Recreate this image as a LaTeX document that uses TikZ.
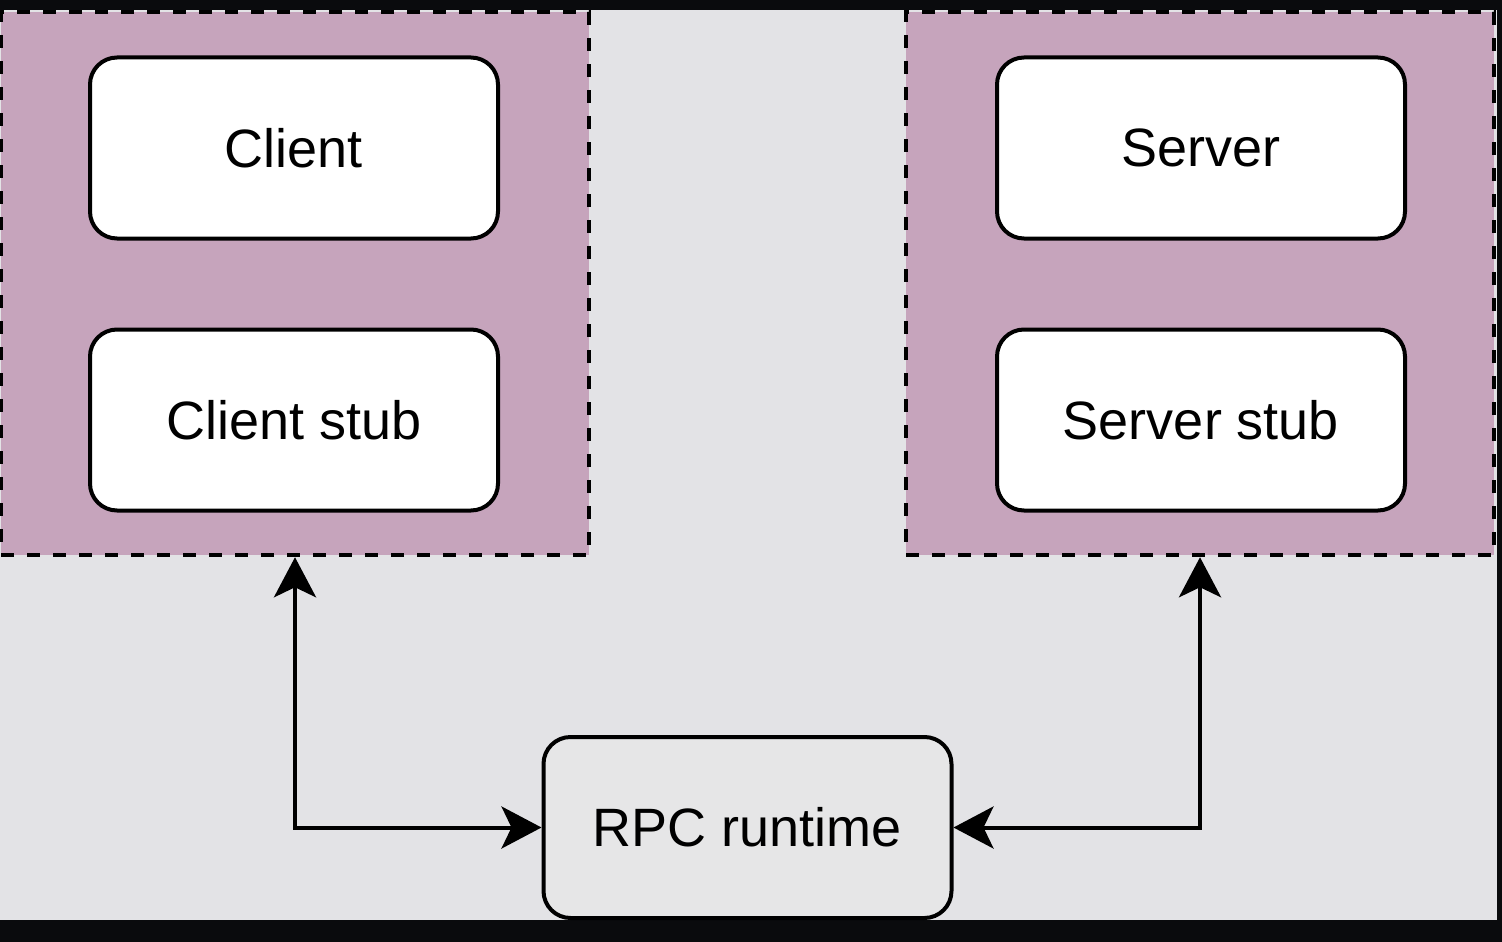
\documentclass[tikz,border=0pt]{standalone}
\usepackage{fontspec}
\setmainfont{Liberation Sans}
\usetikzlibrary{positioning, calc, arrows.meta}

\definecolor{frameDark}{RGB}{10,11,13}
\definecolor{bgGray}{RGB}{227,227,230}
\definecolor{grpPurple}{RGB}{198,164,188}
\definecolor{rtGray}{RGB}{230,230,231}

\begin{document}
\begin{tikzpicture}[x=1pt,y=-1pt,
    grp/.style={draw, line width=4.5pt, dash pattern=on 13pt off 13pt,
      fill=grpPurple, inner sep=0pt},
    box/.style={draw, line width=4pt, rounded corners=27pt, fill=white,
      minimum width=408pt, minimum height=181pt, inner sep=0pt,
      font=\fontsize{54}{62}\selectfont},
    link/.style={line width=4pt,
      {Stealth[length=40pt,width=42pt,inset=10pt]}-{Stealth[length=40pt,width=42pt,inset=10pt]}}]
      \useasboundingbox (0,0) rectangle (1502,942);

      % 背景
      \fill[frameDark] (0,0) rectangle (1502,942);
      \fill[bgGray] (0,10) rectangle (1497,920);

      % グループ枠
      \node (lgrp) [grp, minimum width=588pt, minimum height=543pt] at (295,283.5) {};
      \node (rgrp) [grp, minimum width=588pt, minimum height=543pt] at (1200,283.5) {};

      % ボックス
      \node (client) [box] at (294,148) {Client};
      \node (cstub) [box] at (294,420) {Client stub};
      \node (server) [box] at (1201,148) {Server};
      \node (sstub) [box] at (1201,420) {Server stub};
      \node (rpc) [box, fill=rtGray] at (747.5,827.5) {RPC runtime};

      % 矢印
      \draw[link] (lgrp.south) |- (rpc.west);
      \draw[link] (rgrp.south) |- (rpc.east);
  \end{tikzpicture}
\end{document}
